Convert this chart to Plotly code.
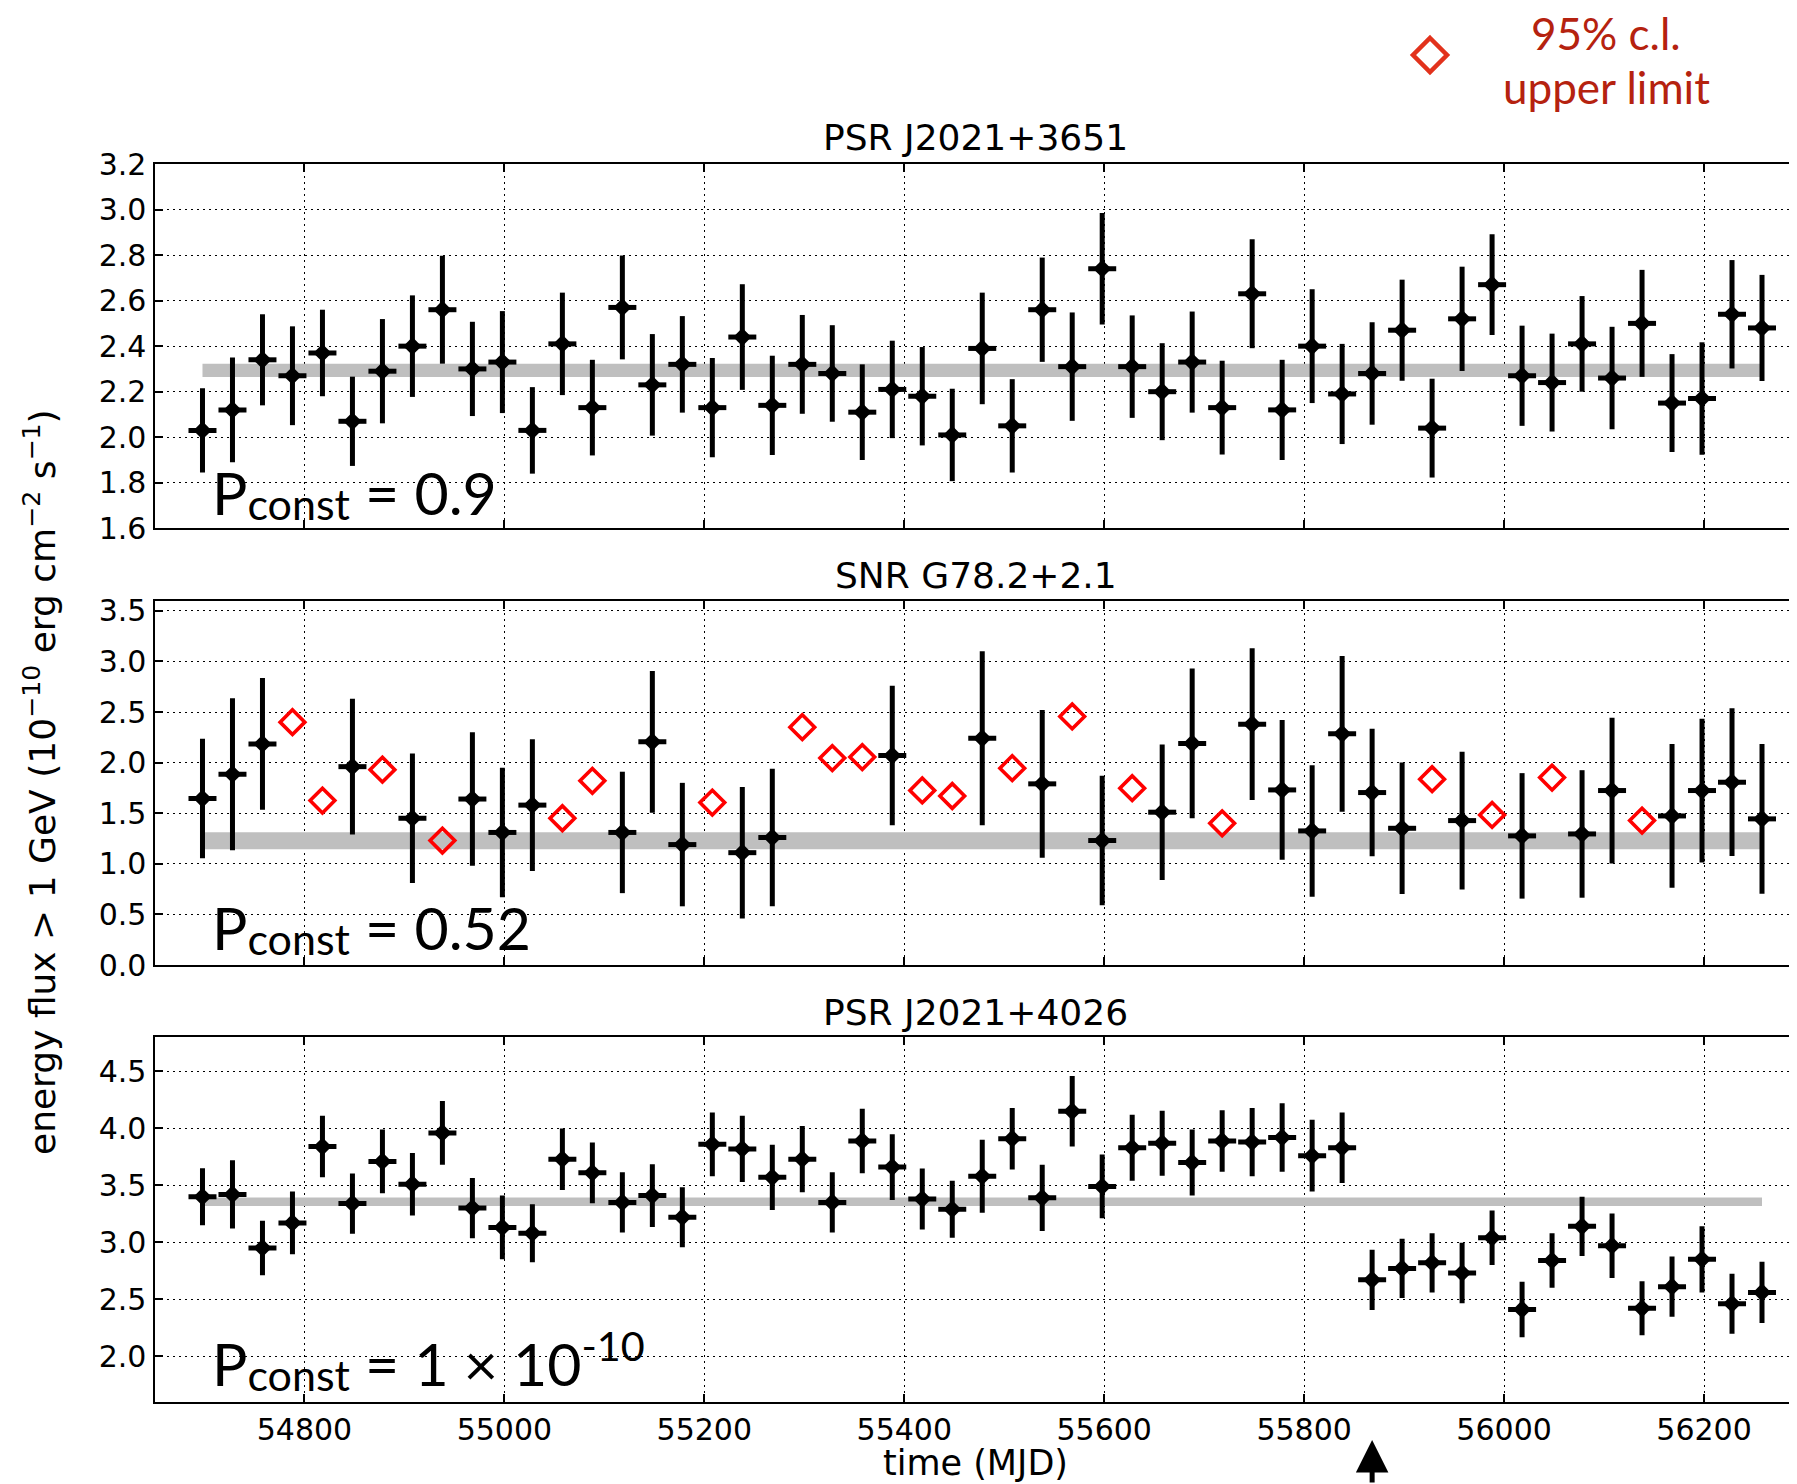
import plotly.graph_objects as go

# ---------------- data ----------------
times = [54698, 54728, 54758, 54788, 54818, 54848, 54878, 54908, 54938, 54968,
         54998, 55028, 55058, 55088, 55118, 55148, 55178, 55208, 55238, 55268,
         55298, 55328, 55358, 55388, 55418, 55448, 55478, 55508, 55538, 55568,
         55598, 55628, 55658, 55688, 55718, 55748, 55778, 55808, 55838, 55868,
         55898, 55928, 55958, 55988, 56018, 56048, 56078, 56108, 56138, 56168,
         56198, 56228, 56258]
bin_halfwidth = 14

psr3651_flux = [2.03, 2.12, 2.34, 2.27, 2.37, 2.07, 2.29, 2.40, 2.56, 2.30,
                2.33, 2.03, 2.41, 2.13, 2.57, 2.23, 2.32, 2.13, 2.44, 2.14,
                2.32, 2.28, 2.11, 2.21, 2.18, 2.01, 2.39, 2.05, 2.56, 2.31,
                2.74, 2.31, 2.20, 2.33, 2.13, 2.63, 2.12, 2.40, 2.19, 2.28,
                2.47, 2.04, 2.52, 2.67, 2.27, 2.24, 2.41, 2.26, 2.50, 2.15,
                2.17, 2.54, 2.48]
psr3651_err = [0.185, 0.23, 0.20, 0.217, 0.19, 0.196, 0.229, 0.223, 0.237, 0.207,
               0.224, 0.19, 0.225, 0.21, 0.228, 0.223, 0.212, 0.218, 0.232, 0.218,
               0.217, 0.212, 0.21, 0.214, 0.216, 0.203, 0.245, 0.205, 0.229, 0.238,
               0.245, 0.225, 0.213, 0.222, 0.206, 0.239, 0.22, 0.25, 0.22, 0.225,
               0.222, 0.217, 0.229, 0.221, 0.22, 0.215, 0.21, 0.225, 0.235, 0.215,
               0.247, 0.238, 0.233]

# SNR: None in flux -> upper limit in snr_ul
snr_flux = [1.645, 1.885, 2.185, None, None, 1.96, None, 1.45, None, 1.64,
            1.31, 1.58, None, None, 1.31, 2.205, 1.19, None, 1.11, 1.26,
            None, None, None, 2.07, None, None, 2.24, None, 1.79, None,
            1.23, None, 1.51, 2.19, None, 2.38, 1.73, 1.325, 2.284, 1.704,
            1.351, None, 1.427, None, 1.276, None, 1.295, 1.724, None, 1.473,
            1.724, 1.806, 1.444]
snr_err = [0.59, 0.75, 0.65, None, None, 0.67, None, 0.64, None, 0.66,
           0.64, 0.65, None, None, 0.60, 0.70, 0.61, None, 0.65, 0.68,
           None, None, None, 0.69, None, None, 0.86, None, 0.73, None,
           0.64, None, 0.67, 0.74, None, 0.75, 0.69, 0.65, 0.77, 0.63,
           0.65, None, 0.68, None, 0.62, None, 0.63, 0.72, None, 0.71,
           0.71, 0.73, 0.74]
snr_ul = [None, None, None, 2.40, 1.625, None, 1.93, None, 1.23, None,
          None, None, 1.45, 1.82, None, None, None, 1.605, None, None,
          2.35, 2.045, 2.055, None, 1.725, 1.67, None, 1.945, None, 2.456,
          None, 1.747, None, None, 1.40, None, None, None, None, None,
          None, 1.836, None, 1.483, None, 1.852, None, None, 1.427, None,
          None, None, None]

psr4026_flux = [3.40, 3.42, 2.95, 3.17, 3.84, 3.34, 3.71, 3.51, 3.96, 3.30,
                3.13, 3.08, 3.73, 3.61, 3.35, 3.41, 3.22, 3.86, 3.82, 3.57,
                3.73, 3.35, 3.89, 3.66, 3.38, 3.29, 3.58, 3.91, 3.39, 4.15,
                3.49, 3.83, 3.87, 3.70, 3.89, 3.88, 3.92, 3.76, 3.83, 2.67,
                2.77, 2.82, 2.73, 3.04, 2.41, 2.84, 3.14, 2.97, 2.42, 2.61,
                2.85, 2.46, 2.56]
psr4026_err = [0.25, 0.30, 0.24, 0.275, 0.27, 0.265, 0.28, 0.275, 0.28, 0.265,
               0.28, 0.255, 0.27, 0.267, 0.264, 0.275, 0.264, 0.28, 0.29, 0.286,
               0.29, 0.264, 0.283, 0.289, 0.267, 0.25, 0.32, 0.27, 0.29, 0.31,
               0.28, 0.29, 0.285, 0.29, 0.27, 0.30, 0.30, 0.315, 0.31, 0.264,
               0.26, 0.26, 0.266, 0.24, 0.244, 0.24, 0.26, 0.283, 0.237, 0.264,
               0.29, 0.264, 0.268]

panel_titles = ["PSR J2021+3651", "SNR G78.2+2.1", "PSR J2021+4026"]
const_fit = [2.294, 1.228, 3.356]
const_fit_err = [0.029, 0.084, 0.038]
p_const = ["0.9", "0.52", "1 × 10<sup>-10</sup>"]
y_ranges = [[1.6, 3.2], [0.0, 3.6], [1.6, 4.8]]
y_dticks = [0.2, 0.5, 0.5]
x_ticks = [54800, 55000, 55200, 55400, 55600, 55800, 56000, 56200]
event_mjd = 55868

# ---------------- layout geometry (page pixels) ----------------
PAGE_OFF = 8                       # default body margin of the html page
W, H = 1797 - PAGE_OFF, 1484 - PAGE_OFF


def px(X):
    return (X - PAGE_OFF) / W


def py(Y):
    return 1 - (Y - PAGE_OFF) / H


x_left_px = 154.5
panel_px = [(164.0, 528.3), (600.7, 965.0), (1037.3, 1401.7)]  # top, bottom rows
x_range = [54650, 56293]

TEXT_FONT = "DejaVu Sans"
GILL = "Lato"
RED = "#ff0000"
LEG_RED = "#e2321c"
LEG_TXT = "#b5220f"

fig = go.Figure()


def band(i, xa, ya):
    c, e = const_fit[i], const_fit_err[i]
    fig.add_trace(go.Scatter(
        x=[times[0], times[-1], times[-1], times[0], times[0]],
        y=[c - e, c - e, c + e, c + e, c - e],
        fill="toself", fillcolor="#bfbfbf", line=dict(width=0),
        mode="lines", hoverinfo="skip", showlegend=False,
        xaxis=xa, yaxis=ya))


def points(xs, ys, es, xa, ya):
    fig.add_trace(go.Scatter(
        x=xs, y=ys, mode="markers",
        marker=dict(symbol="diamond", size=14, color="black"),
        error_y=dict(type="data", array=es, visible=True, thickness=5, width=0, color="black"),
        error_x=dict(type="data", array=[bin_halfwidth] * len(xs), visible=True,
                     thickness=5, width=0, color="black"),
        showlegend=False, xaxis=xa, yaxis=ya))


# panel 1
band(0, "x", "y")
points(times, psr3651_flux, psr3651_err, "x", "y")
# panel 2
band(1, "x2", "y2")
det_t = [t for t, f in zip(times, snr_flux) if f is not None]
det_f = [f for f in snr_flux if f is not None]
det_e = [e for e in snr_err if e is not None]
points(det_t, det_f, det_e, "x2", "y2")
ul_t = [t for t, u in zip(times, snr_ul) if u is not None]
ul_v = [u for u in snr_ul if u is not None]
fig.add_trace(go.Scatter(
    x=ul_t, y=ul_v, mode="markers",
    marker=dict(symbol="diamond-open", size=19, color=RED, line=dict(width=3.6, color=RED)),
    showlegend=False, xaxis="x2", yaxis="y2"))
# panel 3
band(2, "x3", "y3")
points(times, psr4026_flux, psr4026_err, "x3", "y3")

layout = dict(
    width=W, height=H, margin=dict(l=0, r=0, t=0, b=0, autoexpand=False),
    paper_bgcolor="white", plot_bgcolor="white", showlegend=False,
    font=dict(family=TEXT_FONT, size=30, color="black"),
)

xdom = [px(x_left_px), 1.0]
for i in range(3):
    top, bot = panel_px[i]
    ydom = [py(bot), py(top)]
    xa = "xaxis" if i == 0 else f"xaxis{i+1}"
    ya = "yaxis" if i == 0 else f"yaxis{i+1}"
    layout[xa] = dict(
        domain=xdom, anchor="y" if i == 0 else f"y{i+1}", range=x_range,
        tickmode="array", tickvals=x_ticks, ticktext=[str(v) for v in x_ticks],
        showticklabels=(i == 2), ticks="inside", ticklen=8, tickwidth=1.5,
        tickcolor="black", showline=True, linecolor="black", linewidth=2.2,
        mirror="allticks", showgrid=True, gridcolor="black", gridwidth=1.3,
        griddash="2px,4px", zeroline=False,
        tickfont=dict(family=TEXT_FONT, size=30, color="black"),
    )
    layout[ya] = dict(
        domain=ydom, anchor="x" if i == 0 else f"x{i+1}", range=y_ranges[i],
        dtick=y_dticks[i], tick0=0, tickformat=".1f",
        ticks="inside", ticklen=8, tickwidth=1.5, tickcolor="black",
        showline=True, linecolor="black", linewidth=2.2, mirror=False,
        showgrid=True, gridcolor="black", gridwidth=1.3, griddash="2px,4px",
        zeroline=False, tickfont=dict(family=TEXT_FONT, size=30, color="black"),
    )

annotations = []
xc = (px(x_left_px) + 1.0) / 2
title_centers_px = [138, 575, 1012]
for i in range(3):
    annotations.append(dict(
        text=panel_titles[i], xref="paper", yref="paper", x=xc,
        y=py(title_centers_px[i]), xanchor="center", yanchor="middle",
        showarrow=False, font=dict(family=TEXT_FONT, size=36, color="black")))

pconst_bottom_px = [531, 966, 1402]
for i in range(3):
    annotations.append(dict(
        text="P<span style='font-size:43px;baseline-shift:-5px'>const</span> = " + p_const[i],
        xref="paper", yref="paper",
        x=px(210), y=py(pconst_bottom_px[i]), xanchor="left", yanchor="bottom",
        showarrow=False, font=dict(family=GILL, size=59, color="black")))

# y axis label
annotations.append(dict(
    text="energy flux > 1 GeV (10<sup>−10</sup> erg cm<sup>−2</sup> s<sup>−1</sup>)",
    xref="paper", yref="paper", x=px(40), y=py(782), textangle=-90,
    xanchor="center", yanchor="middle", showarrow=False,
    font=dict(family=TEXT_FONT, size=36, color="black")))
# x axis label
annotations.append(dict(
    text="time (MJD)", xref="paper", yref="paper", x=xc, y=py(1463),
    xanchor="center", yanchor="middle", showarrow=False,
    font=dict(family=TEXT_FONT, size=35, color="black")))

# legend text
annotations.append(dict(
    text="95% c.l.", xref="paper", yref="paper", x=px(1606), y=1.0,
    xanchor="center", yanchor="top", yshift=3, showarrow=False,
    font=dict(family=GILL, size=44, color=LEG_TXT)))
annotations.append(dict(
    text="upper limit", xref="paper", yref="paper", x=px(1606), y=py(87),
    xanchor="center", yanchor="middle", showarrow=False,
    font=dict(family=GILL, size=44, color=LEG_TXT)))

# event arrow under the bottom axis
annotations.append(dict(
    text="", x=event_mjd, xref="x3", y=py(1440), yref="paper",
    ax=0, ay=75, showarrow=True,
    arrowhead=2, arrowsize=1.3, arrowwidth=5, arrowcolor="black", standoff=0))

layout["annotations"] = annotations

# legend glyph (open diamond) drawn as a paper-space path
lx, ly, lr = 1430, 55, 17
pts = [(lx, ly - lr), (lx + lr, ly), (lx, ly + lr), (lx - lr, ly)]
path = "M " + " L ".join(f"{px(a):.5f},{py(b):.5f}" for a, b in pts) + " Z"
layout["shapes"] = [dict(type="path", xref="paper", yref="paper", path=path,
                         line=dict(color=LEG_RED, width=4.5), fillcolor="rgba(0,0,0,0)")]

fig.update_layout(**layout)
fig.write_html("out.html")
